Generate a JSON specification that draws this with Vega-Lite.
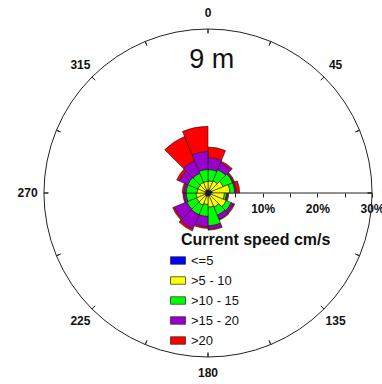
{
  "$schema": "https://vega.github.io/schema/vega-lite/v6.json",
  "width": 348,
  "height": 386,
  "autosize": {"type": "none"},
  "padding": {"left": 34, "top": 0, "right": 0, "bottom": 0},
  "background": "white",
  "config": {"view": {"stroke": null}, "font": "Liberation Sans"},
  "datasets": {
    "rose": [
      {"d0": 0, "d1": 22.5, "o": 1, "c": "<=5", "f": 0.6},
      {"d0": 0, "d1": 22.5, "o": 2, "c": ">5 - 10", "f": 1.6},
      {"d0": 0, "d1": 22.5, "o": 3, "c": ">10 - 15", "f": 2.1},
      {"d0": 0, "d1": 22.5, "o": 4, "c": ">15 - 20", "f": 2.2},
      {"d0": 0, "d1": 22.5, "o": 5, "c": ">20", "f": 1.9},
      {"d0": 22.5, "d1": 45, "o": 1, "c": "<=5", "f": 0.6},
      {"d0": 22.5, "d1": 45, "o": 2, "c": ">5 - 10", "f": 1.8},
      {"d0": 22.5, "d1": 45, "o": 3, "c": ">10 - 15", "f": 2.2},
      {"d0": 22.5, "d1": 45, "o": 4, "c": ">15 - 20", "f": 1.4},
      {"d0": 22.5, "d1": 45, "o": 5, "c": ">20", "f": 0.3},
      {"d0": 45, "d1": 67.5, "o": 1, "c": "<=5", "f": 0.7},
      {"d0": 45, "d1": 67.5, "o": 2, "c": ">5 - 10", "f": 2.3},
      {"d0": 45, "d1": 67.5, "o": 3, "c": ">10 - 15", "f": 1.9},
      {"d0": 45, "d1": 67.5, "o": 4, "c": ">15 - 20", "f": 0.2},
      {"d0": 45, "d1": 67.5, "o": 5, "c": ">20", "f": 0.2},
      {"d0": 67.5, "d1": 90, "o": 1, "c": "<=5", "f": 0.8},
      {"d0": 67.5, "d1": 90, "o": 2, "c": ">5 - 10", "f": 3.2},
      {"d0": 67.5, "d1": 90, "o": 3, "c": ">10 - 15", "f": 0.9},
      {"d0": 67.5, "d1": 90, "o": 4, "c": ">15 - 20", "f": 0.3},
      {"d0": 67.5, "d1": 90, "o": 5, "c": ">20", "f": 0.6},
      {"d0": 90, "d1": 112.5, "o": 1, "c": "<=5", "f": 0.6},
      {"d0": 90, "d1": 112.5, "o": 2, "c": ">5 - 10", "f": 2.4},
      {"d0": 90, "d1": 112.5, "o": 3, "c": ">10 - 15", "f": 0.4},
      {"d0": 90, "d1": 112.5, "o": 4, "c": ">15 - 20", "f": 0.2},
      {"d0": 90, "d1": 112.5, "o": 5, "c": ">20", "f": 0.2},
      {"d0": 112.5, "d1": 135, "o": 1, "c": "<=5", "f": 0.6},
      {"d0": 112.5, "d1": 135, "o": 2, "c": ">5 - 10", "f": 3.0},
      {"d0": 112.5, "d1": 135, "o": 3, "c": ">10 - 15", "f": 1.0},
      {"d0": 112.5, "d1": 135, "o": 4, "c": ">15 - 20", "f": 0.5},
      {"d0": 112.5, "d1": 135, "o": 5, "c": ">20", "f": 0.2},
      {"d0": 135, "d1": 157.5, "o": 1, "c": "<=5", "f": 0.6},
      {"d0": 135, "d1": 157.5, "o": 2, "c": ">5 - 10", "f": 2.2},
      {"d0": 135, "d1": 157.5, "o": 3, "c": ">10 - 15", "f": 1.6},
      {"d0": 135, "d1": 157.5, "o": 4, "c": ">15 - 20", "f": 0.8},
      {"d0": 135, "d1": 157.5, "o": 5, "c": ">20", "f": 0.2},
      {"d0": 157.5, "d1": 180, "o": 1, "c": "<=5", "f": 0.6},
      {"d0": 157.5, "d1": 180, "o": 2, "c": ">5 - 10", "f": 2.0},
      {"d0": 157.5, "d1": 180, "o": 3, "c": ">10 - 15", "f": 3.4},
      {"d0": 157.5, "d1": 180, "o": 4, "c": ">15 - 20", "f": 0.6},
      {"d0": 157.5, "d1": 180, "o": 5, "c": ">20", "f": 0.2},
      {"d0": 180, "d1": 202.5, "o": 1, "c": "<=5", "f": 0.6},
      {"d0": 180, "d1": 202.5, "o": 2, "c": ">5 - 10", "f": 1.5},
      {"d0": 180, "d1": 202.5, "o": 3, "c": ">10 - 15", "f": 2.2},
      {"d0": 180, "d1": 202.5, "o": 4, "c": ">15 - 20", "f": 1.9},
      {"d0": 180, "d1": 202.5, "o": 5, "c": ">20", "f": 0.3},
      {"d0": 202.5, "d1": 225, "o": 1, "c": "<=5", "f": 0.7},
      {"d0": 202.5, "d1": 225, "o": 2, "c": ">5 - 10", "f": 1.7},
      {"d0": 202.5, "d1": 225, "o": 3, "c": ">10 - 15", "f": 1.9},
      {"d0": 202.5, "d1": 225, "o": 4, "c": ">15 - 20", "f": 2.8},
      {"d0": 202.5, "d1": 225, "o": 5, "c": ">20", "f": 0.4},
      {"d0": 225, "d1": 247.5, "o": 1, "c": "<=5", "f": 0.6},
      {"d0": 225, "d1": 247.5, "o": 2, "c": ">5 - 10", "f": 1.7},
      {"d0": 225, "d1": 247.5, "o": 3, "c": ">10 - 15", "f": 1.9},
      {"d0": 225, "d1": 247.5, "o": 4, "c": ">15 - 20", "f": 2.5},
      {"d0": 225, "d1": 247.5, "o": 5, "c": ">20", "f": 0.3},
      {"d0": 247.5, "d1": 270, "o": 1, "c": "<=5", "f": 0.5},
      {"d0": 247.5, "d1": 270, "o": 2, "c": ">5 - 10", "f": 1.7},
      {"d0": 247.5, "d1": 270, "o": 3, "c": ">10 - 15", "f": 1.8},
      {"d0": 247.5, "d1": 270, "o": 4, "c": ">15 - 20", "f": 0.4},
      {"d0": 247.5, "d1": 270, "o": 5, "c": ">20", "f": 0.2},
      {"d0": 270, "d1": 292.5, "o": 1, "c": "<=5", "f": 0.5},
      {"d0": 270, "d1": 292.5, "o": 2, "c": ">5 - 10", "f": 1.5},
      {"d0": 270, "d1": 292.5, "o": 3, "c": ">10 - 15", "f": 2.0},
      {"d0": 270, "d1": 292.5, "o": 4, "c": ">15 - 20", "f": 0.4},
      {"d0": 270, "d1": 292.5, "o": 5, "c": ">20", "f": 0.3},
      {"d0": 292.5, "d1": 315, "o": 1, "c": "<=5", "f": 0.5},
      {"d0": 292.5, "d1": 315, "o": 2, "c": ">5 - 10", "f": 1.5},
      {"d0": 292.5, "d1": 315, "o": 3, "c": ">10 - 15", "f": 2.0},
      {"d0": 292.5, "d1": 315, "o": 4, "c": ">15 - 20", "f": 1.7},
      {"d0": 292.5, "d1": 315, "o": 5, "c": ">20", "f": 0.5},
      {"d0": 315, "d1": 337.5, "o": 1, "c": "<=5", "f": 0.6},
      {"d0": 315, "d1": 337.5, "o": 2, "c": ">5 - 10", "f": 1.5},
      {"d0": 315, "d1": 337.5, "o": 3, "c": ">10 - 15", "f": 1.8},
      {"d0": 315, "d1": 337.5, "o": 4, "c": ">15 - 20", "f": 2.5},
      {"d0": 315, "d1": 337.5, "o": 5, "c": ">20", "f": 4.8},
      {"d0": 337.5, "d1": 360, "o": 1, "c": "<=5", "f": 0.6},
      {"d0": 337.5, "d1": 360, "o": 2, "c": ">5 - 10", "f": 1.5},
      {"d0": 337.5, "d1": 360, "o": 3, "c": ">10 - 15", "f": 2.2},
      {"d0": 337.5, "d1": 360, "o": 4, "c": ">15 - 20", "f": 3.3},
      {"d0": 337.5, "d1": 360, "o": 5, "c": ">20", "f": 4.6}
    ],
    "dirs": [
      {"a": 0}, {"a": 22.5}, {"a": 45}, {"a": 67.5}, {"a": 90}, {"a": 112.5}, {"a": 135}, {"a": 157.5},
      {"a": 180}, {"a": 202.5}, {"a": 225}, {"a": 247.5}, {"a": 270}, {"a": 292.5}, {"a": 315}, {"a": 337.5}
    ],
    "labels": [
      {"a": 0}, {"a": 45}, {"a": 90}, {"a": 135}, {"a": 180}, {"a": 225}, {"a": 270}, {"a": 315}
    ]
  },
  "layer": [
    {
      "data": {"values": [{"a": 0, "b": 30}]},
      "mark": {"type": "rule", "color": "#222", "strokeWidth": 1},
      "encoding": {
        "x": {
          "field": "a", "type": "quantitative",
          "scale": {"domain": [-31.83, 31.83], "nice": false, "zero": false},
          "axis": {
            "orient": "bottom", "offset": -193, "values": [5, 10, 15, 20, 25, 30],
            "domain": false, "grid": false, "ticks": true, "tickSize": 4, "tickColor": "#222", "tickWidth": 1,
            "labelExpr": "datum.value % 10 === 0 ? datum.value + '%' : ''",
            "labelFont": "Liberation Sans", "labelFontSize": 12, "labelFontWeight": "bold", "labelColor": "#111",
            "labelPadding": 6, "labelFlush": false, "labelOverlap": false, "title": null
          }
        },
        "x2": {"field": "b"},
        "y": {"datum": 0, "type": "quantitative", "scale": {"domain": [-35.3, 35.3], "nice": false, "zero": false}, "axis": null}
      }
    },
    {
      "data": {"values": [{"r": 30}]},
      "mark": {"type": "arc", "filled": false, "stroke": "#222", "strokeWidth": 1},
      "encoding": {
        "theta": {"datum": 0, "type": "quantitative", "scale": {"type": "linear", "domain": [0, 360], "range": [0, 6.283185307179586]}},
        "theta2": {"datum": 360},
        "radius": {"field": "r", "type": "quantitative", "scale": {"type": "linear", "domain": [0, 30], "range": [0, 164], "zero": true, "nice": false}}
      }
    },
    {
      "data": {"name": "dirs"},
      "mark": {"type": "arc", "filled": false, "stroke": "#222", "strokeWidth": 1},
      "encoding": {
        "theta": {"field": "a", "type": "quantitative", "stack": null, "scale": {"type": "linear", "domain": [0, 360], "range": [0, 6.283185307179586]}},
        "theta2": {"field": "a"},
        "radius": {"datum": 30, "type": "quantitative", "scale": {"type": "linear", "domain": [0, 30], "range": [0, 164], "zero": true, "nice": false}},
        "radius2": {"datum": 29.2}
      }
    },
    {
      "data": {"name": "rose"},
      "transform": [
        {"stack": "f", "groupby": ["d0"], "sort": [{"field": "o", "order": "ascending"}], "as": ["r0", "r1"]}
      ],
      "mark": {"type": "arc", "stroke": "#1a1a1a", "strokeWidth": 0.6},
      "encoding": {
        "theta": {"field": "d0", "type": "quantitative", "stack": null, "scale": {"type": "linear", "domain": [0, 360], "range": [0, 6.283185307179586]}},
        "theta2": {"field": "d1"},
        "radius": {"field": "r1", "type": "quantitative", "stack": null, "scale": {"type": "linear", "domain": [0, 30], "range": [0, 164], "zero": true, "nice": false}},
        "radius2": {"field": "r0"},
        "fill": {
          "field": "c", "type": "nominal",
          "scale": {"domain": ["<=5", ">5 - 10", ">10 - 15", ">15 - 20", ">20"], "range": ["#0000FF", "#FFFF00", "#00FF00", "#9900CC", "#FF0000"]},
          "legend": {
            "orient": "none", "legendX": 136, "legendY": 252.5, "direction": "vertical", "title": null,
            "padding": 0, "symbolType": "M-1,-0.5H1V0.5H-1Z", "symbolSize": 225,
            "symbolStrokeColor": "#222", "symbolStrokeWidth": 0.7, "symbolOpacity": 1,
            "labelFont": "Liberation Sans", "labelFontSize": 13, "labelColor": "#111", "labelOffset": 5, "rowPadding": 5
          }
        }
      }
    },
    {
      "data": {"name": "labels"},
      "mark": {"type": "text", "fontSize": 12, "fontWeight": "bold", "align": "center", "baseline": "middle", "color": "#111"},
      "encoding": {
        "theta": {"field": "a", "type": "quantitative", "stack": null, "scale": {"type": "linear", "domain": [0, 360], "range": [0, 6.283185307179586]}},
        "radius": {"datum": 33, "type": "quantitative", "scale": {"type": "linear", "domain": [0, 30], "range": [0, 164], "zero": true, "nice": false}},
        "text": {"field": "a", "type": "quantitative", "format": "d"}
      }
    },
    {
      "data": {"values": [{}]},
      "mark": {"type": "text", "text": "9 m", "fontSize": 27, "align": "center", "baseline": "alphabetic", "color": "#111"},
      "encoding": {
        "x": {"datum": 0.7, "type": "quantitative"},
        "y": {"datum": 22.86, "type": "quantitative"}
      }
    },
    {
      "data": {"values": [{}]},
      "mark": {"type": "text", "text": "Current speed cm/s", "fontSize": 16, "fontWeight": "bold", "align": "left", "baseline": "alphabetic", "color": "#111"},
      "encoding": {
        "x": {"datum": -4.94, "type": "quantitative"},
        "y": {"datum": -9.51, "type": "quantitative"}
      }
    }
  ]
}
